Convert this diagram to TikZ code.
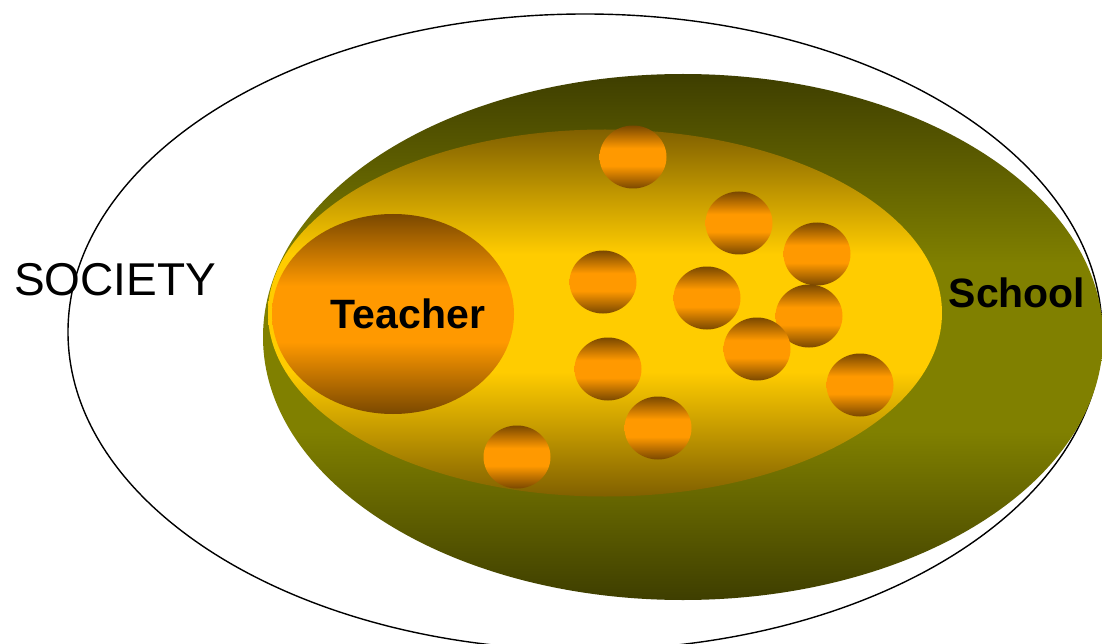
\documentclass[tikz,border=0pt]{standalone}
\usepackage{fontspec}
\setmainfont{Liberation Sans}
\usetikzlibrary{shapes.geometric}
\definecolor{olivedark}{RGB}{62,62,0}
\definecolor{olivelight}{RGB}{128,128,0}
\definecolor{goldbrown}{RGB}{128,96,0}
\definecolor{goldlight}{RGB}{255,204,0}
\definecolor{orangebrown}{RGB}{122,72,0}
\definecolor{orangelight}{RGB}{255,153,0}
\pgfdeclareverticalshading{schoolshade}{100bp}{color(0bp)=(olivedark); color(25bp)=(olivedark); color(41bp)=(olivelight); color(57bp)=(olivelight); color(75bp)=(olivedark); color(100bp)=(olivedark)}
\pgfdeclareverticalshading{classshade}{100bp}{color(0bp)=(goldbrown); color(25bp)=(goldbrown); color(42bp)=(goldlight); color(58bp)=(goldlight); color(75bp)=(goldbrown); color(100bp)=(goldbrown)}
\pgfdeclareverticalshading{ballshade}{100bp}{color(0bp)=(orangebrown); color(25bp)=(orangebrown); color(43bp)=(orangelight); color(57bp)=(orangelight); color(75bp)=(orangebrown); color(100bp)=(orangebrown)}

\begin{document}
\begin{tikzpicture}[
    x=1pt, y=-1pt,
    ring/.style={
        ellipse,
        inner sep=0pt,
        outer sep=0pt
    },
    society/.style={
        ring,
        draw,
        line width=1.4pt,
        fill=white,
        minimum width=1034pt,
        minimum height=636pt
    },
    schoolring/.style={
        ring,
        shading=schoolshade,
        minimum width=840pt,
        minimum height=526pt
    },
    classring/.style={
        ring,
        shading=classshade,
        minimum width=674pt,
        minimum height=367pt
    },
    teacherball/.style={
        ring,
        shading=ballshade,
        minimum width=242pt,
        minimum height=200pt
    },
    pupil/.style={
        ring,
        shading=ballshade,
        minimum width=67pt,
        minimum height=63pt
    },
    biglabel/.style={
        font=\fontsize{46}{50}\selectfont,
        inner sep=0pt
    },
    boldlabel/.style={
        font=\fontsize{41}{45}\selectfont\bfseries,
        inner sep=0pt
    }
]
\useasboundingbox (0,0) rectangle (1102,644);

% SOCIETY
\node[society] (society) at (585,332) {};

% SCHOOL
\node[schoolring] (school) at (683,337) {};

% CLASS
\node[classring] (class) at (605,313) {};

% TEACHER
\node[teacherball] (teacher) at (393,314) {};

% PUPILS
\node[pupil] (p1)  at (633,157) {};
\node[pupil] (p2)  at (739,223) {};
\node[pupil] (p3)  at (817,254) {};
\node[pupil] (p4)  at (603,282) {};
\node[pupil] (p5)  at (707,298) {};
\node[pupil] (p6)  at (809,316) {};
\node[pupil] (p7)  at (757,349) {};
\node[pupil] (p8)  at (608,369) {};
\node[pupil] (p9)  at (860,385) {};
\node[pupil] (p10) at (658,428) {};
\node[pupil] (p11) at (517,457) {};

% LABELS
\node[biglabel] (societytext) at (115,280) {SOCIETY};
\node[boldlabel] (teachertext) at ([xshift=15pt]teacher.center) {Teacher};
\node[boldlabel] (schooltext) at (1017,293) {School};

\end{tikzpicture}
\end{document}
